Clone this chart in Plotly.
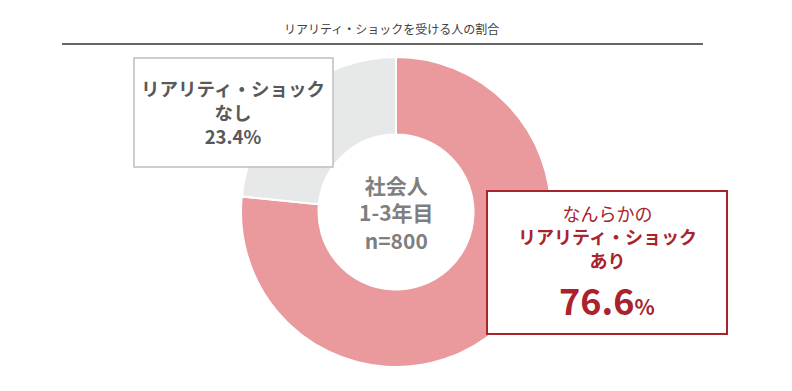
import plotly.graph_objects as go

W, H = 792, 391
OFF = 8  # page body margin
FW, FH = W - 2 * OFF, H - 2 * OFF

title_text = "リアリティ・ショックを受ける人の割合"
labels = ["リアリティ・ショックあり", "リアリティ・ショックなし"]
values = [76.6, 23.4]
slice_colors = ["#EA9A9D", "#E7E8E8"]
center_lines = ["社会人", "1-3年目", "n=800"]

FONT = "Noto Sans CJK JP"

def px(x):
    return (x - OFF) / FW

def py(y):
    return 1 - (y - OFF) / FH

fig = go.Figure()
fig.add_trace(go.Pie(
    labels=labels, values=values, sort=False, direction="clockwise", rotation=0,
    hole=0.5, marker=dict(colors=slice_colors, line=dict(color="white", width=2)),
    textinfo="none", hoverinfo="label+percent", showlegend=False,
    domain=dict(x=[px(241), px(551)], y=[py(367), py(57)]),
))

shapes = [
    dict(type="line", xref="paper", yref="paper", x0=px(62), x1=px(703), y0=py(44), y1=py(44),
         line=dict(color="#333333", width=1.5), layer="above"),
    dict(type="rect", xref="paper", yref="paper", x0=px(134), x1=px(333), y0=py(58), y1=py(167),
         line=dict(color="#BFBFBF", width=1.5), fillcolor="white", layer="above"),
    dict(type="rect", xref="paper", yref="paper", x0=px(487), x1=px(727), y0=py(191), y1=py(334),
         line=dict(color="#A8232C", width=2), fillcolor="white", layer="above"),
]

ann = []
def add(text, x, y, size, color):
    ann.append(dict(text=text, x=px(x), y=py(y), xref="paper", yref="paper",
                    showarrow=False, xanchor="center", yanchor="middle", align="center",
                    font=dict(family=FONT, size=size, color=color)))

add(title_text, 391, 28, 12, "#404040")

gray_txt = "#595959"
add(f"<b>リアリティ・ショック<br>なし<br>{values[1]}%</b>", 233, 112, 18.5, gray_txt)

red_txt = "#A8232C"
add("なんらかの<br><b>リアリティ・ショック<br>あり</b>", 607, 236, 18, red_txt)
add(f"<b>{values[0]}<span style='font-size:21px'>%</span></b>", 607, 299, 36, red_txt)

center_color = "#7F7F7F"
add("<b>" + "<br>".join(center_lines) + "</b>", 396, 212, 21, center_color)

fig.update_layout(
    width=FW, height=FH, margin=dict(l=0, r=0, t=0, b=0),
    paper_bgcolor="white", plot_bgcolor="white",
    shapes=shapes, annotations=ann,
    font=dict(family=FONT),
)
fig.write_html("out.html")
